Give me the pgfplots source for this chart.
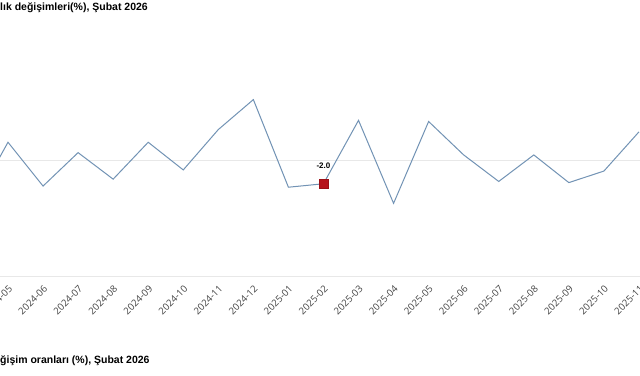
\documentclass[border=0pt]{standalone}
\usepackage{pgfplots}
\pgfplotsset{compat=1.18}
\usepackage{fontspec}
\setmainfont{Liberation Sans}
\newfontfamily\tickfont{Open Sans}
\definecolor{linec}{HTML}{7293B5}
\definecolor{markc}{HTML}{B5121B}
\definecolor{gridc}{HTML}{E8E8E8}
\definecolor{tickc}{HTML}{444444}
\begin{document}
\begin{tikzpicture}[x=1pt,y=1pt]
\path[use as bounding box, fill=white] (0,0) rectangle (640,375);
\begin{axis}[at={(0pt,99pt)}, anchor=south west, scale only axis,
  width=640pt, height=230.6pt,
  xmin=-0.228, xmax=18.03, ymin=-10, ymax=10,
  separate axis lines, axis x line*=bottom, axis y line*=left,
  x axis line style={draw=gridc, line width=0.8pt, -},
  y axis line style={draw=none},
  ytick={0}, yticklabels={}, ymajorgrids,
  grid style={draw=gridc, line width=0.8pt},
  major tick length=0pt,
  xtick={0,...,18},
  xticklabels={2024-05,2024-06,2024-07,2024-08,2024-09,2024-10,2024-11,2024-12,2025-01,2025-02,2025-03,2025-04,2025-05,2025-06,2025-07,2025-08,2025-09,2025-10,2025-11},
  xticklabel shift=8.5pt,
  xticklabel style={rotate=45, anchor=north east, inner sep=0pt,
    font=\tickfont\fontsize{9.6}{11}\selectfont, text=tickc},
  clip=true,
]
\addplot[linec, line width=1pt, mark=none] coordinates {
 (-1,-3.9) (0,1.6) (1,-2.2) (2,0.7) (3,-1.6) (4,1.6) (5,-0.8) (6,2.7)
 (7,5.3) (8,-2.3) (9,-2.0) (10,3.5) (11,-3.7) (12,3.4) (13,0.5)
 (14,-1.8) (15,0.5) (16,-1.9) (17,-0.9) (18,2.5)
};
\addplot[only marks, mark=square*, mark size=4.5pt,
  mark options={fill=markc, draw=markc!85!black},
  nodes near coords={\textbf{-2.0}},
  every node near coord/.style={anchor=south, inner sep=0pt, yshift=14.5pt,
    font=\fontsize{8}{9}\selectfont, text=black}]
  coordinates {(9,-2.0)};
\end{axis}
\node[anchor=west, inner sep=0pt, font=\bfseries\fontsize{10.5}{13}\selectfont] at (0,367) {lık değişimleri(\%), Şubat 2026};
\node[anchor=west, inner sep=0pt, font=\bfseries\fontsize{10.5}{13}\selectfont] at (0,14) {ğişim oranları (\%), Şubat 2026};
\end{tikzpicture}
\end{document}
